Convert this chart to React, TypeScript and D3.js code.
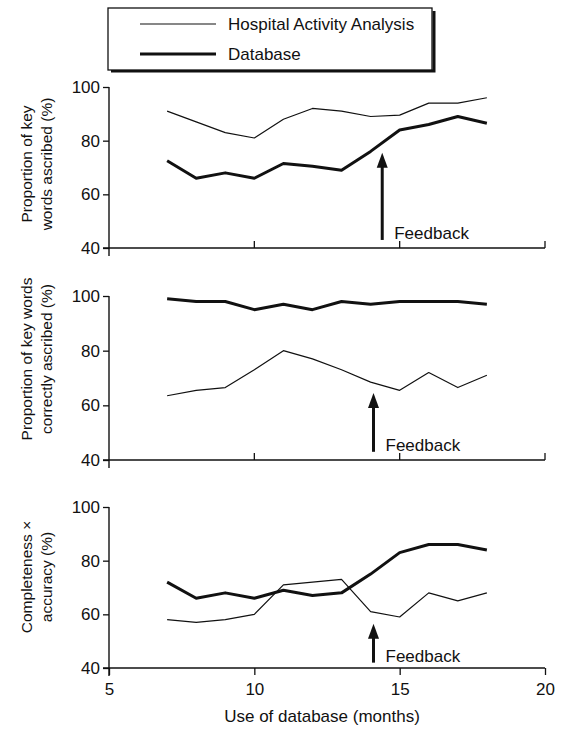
import { useEffect, useRef } from "react";
import * as d3 from "d3";

const months = [7, 8, 9, 10, 11, 12, 13, 14, 15, 16, 17, 18];

// panel 1: proportion of key words ascribed
const haaAscribed = [91, 87, 83, 81, 88, 92, 91, 89, 89.5, 94, 94, 96];
const dbAscribed = [72.5, 66, 68, 66, 71.5, 70.5, 69, 76, 84, 86, 89, 86.5];

// panel 2: proportion of key words correctly ascribed
const haaCorrect = [63.5, 65.5, 66.5, 73, 80, 77, 73, 68.5, 65.5, 72, 66.5, 71];
const dbCorrect = [99, 98, 98, 95, 97, 95, 98, 97, 98, 98, 98, 97];

// panel 3: completeness x accuracy
const haaCompleteness = [58, 57, 58, 60, 71, 72, 73, 61, 59, 68, 65, 68];
const dbCompleteness = [72, 66, 68, 66, 69, 67, 68, 75, 83, 86, 86, 84];

const yTicks = [40, 60, 80, 100];
const xTicks = [5, 10, 15, 20];

const panelTitles = [
  ["Proportion of key", "words ascribed (%)"],
  ["Proportion of key words", "correctly ascribed (%)"],
  ["Completeness \u00d7", "accuracy (%)"],
];

// feedback arrow: month, from value, to value
const feedbackMonth = [14.4, 14.1, 14.1];
const feedbackFrom = [43, 43, 42];
const feedbackTo = [75.5, 64.5, 56.5];

const legendLabels = ["Hospital Activity Analysis", "Database"];

const FONT = "'Liberation Sans', Arial, Helvetica, sans-serif";

export default function App() {
  const svgRef = useRef<SVGSVGElement>(null);
  const width = 565;
  const height = 729;

  useEffect(() => {
    const svg = d3.select(svgRef.current);
    svg.selectAll("*").remove();

    const x = d3.scaleLinear().domain([5, 20]).range([109, 545]);
    const panelRanges = [
      [248, 87],
      [460, 296],
      [668, 507],
    ];
    const series = [
      [haaAscribed, dbAscribed],
      [haaCorrect, dbCorrect],
      [haaCompleteness, dbCompleteness],
    ];
    const titleCenters = [164, 359, 577];

    panelRanges.forEach((range, i) => {
      const y = d3.scaleLinear().domain([40, 100]).range(range);
      const g = svg.append("g").attr("class", `panel-${i}`);

      // y axis
      const yAxis = g
        .append("g")
        .attr("transform", `translate(${x(5)},0)`)
        .call(
          d3.axisLeft(y).tickValues(yTicks).tickSize(6).tickPadding(3).tickSizeOuter(0)
        );
      yAxis.select(".domain").remove();
      yAxis.selectAll("line").attr("stroke", "#111").attr("stroke-width", 1.3);
      yAxis
        .selectAll("text")
        .attr("font-family", FONT)
        .attr("font-size", 17)
        .attr("fill", "#111");

      g.append("line")
        .attr("x1", x(5))
        .attr("x2", x(5))
        .attr("y1", y(100))
        .attr("y2", y(40) + 8)
        .attr("stroke", "#111")
        .attr("stroke-width", 1.4);

      // x axis
      g.append("line")
        .attr("x1", x(5) - 6)
        .attr("x2", x(20))
        .attr("y1", y(40))
        .attr("y2", y(40))
        .attr("stroke", "#111")
        .attr("stroke-width", 1.4);

      if (i < 2) {
        g.selectAll("line.xtick")
          .data(xTicks.slice(1))
          .join("line")
          .attr("class", "xtick")
          .attr("x1", (d) => x(d))
          .attr("x2", (d) => x(d))
          .attr("y1", y(40))
          .attr("y2", y(40) - 7)
          .attr("stroke", "#111")
          .attr("stroke-width", 1.3);
      } else {
        const xAxis = g
          .append("g")
          .attr("transform", `translate(0,${y(40)})`)
          .call(d3.axisBottom(x).tickValues(xTicks).tickSize(7).tickPadding(8).tickSizeOuter(0));
        xAxis.select(".domain").remove();
        xAxis.selectAll("line").attr("stroke", "#111").attr("stroke-width", 1.3);
        xAxis
          .selectAll("text")
          .attr("font-family", FONT)
          .attr("font-size", 17)
          .attr("fill", "#111");

        g.append("text")
          .attr("x", 322)
          .attr("y", 722)
          .attr("text-anchor", "middle")
          .attr("font-family", FONT)
          .attr("font-size", 17)
          .attr("fill", "#111")
          .text("Use of database (months)");
      }

      // y title
      const title = g
        .append("text")
        .attr("transform", `translate(0,${titleCenters[i]}) rotate(-90)`)
        .attr("text-anchor", "middle")
        .attr("font-family", FONT)
        .attr("font-size", 15.5)
        .attr("fill", "#111");
      title.append("tspan").attr("x", 0).attr("y", 32).text(panelTitles[i][0]);
      title.append("tspan").attr("x", 0).attr("y", 52).text(panelTitles[i][1]);

      // lines
      const line = d3
        .line<number>()
        .x((_, j) => x(months[j]))
        .y((d) => y(d));

      g.append("path")
        .attr("d", line(series[i][0]))
        .attr("fill", "none")
        .attr("stroke", "#111")
        .attr("stroke-width", 1.2)
        .attr("stroke-linejoin", "round");

      g.append("path")
        .attr("d", line(series[i][1]))
        .attr("fill", "none")
        .attr("stroke", "#111")
        .attr("stroke-width", 3)
        .attr("stroke-linejoin", "round");

      // feedback arrow
      const ax = x(feedbackMonth[i]);
      const yFrom = y(feedbackFrom[i]);
      const yTo = y(feedbackTo[i]);
      g.append("line")
        .attr("x1", ax)
        .attr("x2", ax)
        .attr("y1", yFrom)
        .attr("y2", yTo + 12)
        .attr("stroke", "#111")
        .attr("stroke-width", 3);
      g.append("path")
        .attr("d", `M${ax},${yTo} L${ax - 5.5},${yTo + 15} L${ax + 5.5},${yTo + 15} Z`)
        .attr("fill", "#111");
      g.append("text")
        .attr("x", ax + 12)
        .attr("y", yFrom - 1)
        .attr("font-family", FONT)
        .attr("font-size", 17)
        .attr("fill", "#111")
        .text("Feedback");
    });

    // legend
    const legend = svg.append("g").attr("class", "legend");
    legend
      .append("path")
      .attr("d", "M111,71 L434,71 L434,11")
      .attr("fill", "none")
      .attr("stroke", "#111")
      .attr("stroke-width", 3);
    legend
      .append("rect")
      .attr("x", 108)
      .attr("y", 8)
      .attr("width", 324)
      .attr("height", 62)
      .attr("fill", "white")
      .attr("stroke", "#111")
      .attr("stroke-width", 1.3);

    legendLabels.forEach((label, i) => {
      const ly = 24 + i * 30;
      legend
        .append("line")
        .attr("x1", 140)
        .attr("x2", 216)
        .attr("y1", ly)
        .attr("y2", ly)
        .attr("stroke", "#111")
        .attr("stroke-width", i === 0 ? 1.2 : 3);
      legend
        .append("text")
        .attr("x", 228)
        .attr("y", ly + 6)
        .attr("font-family", FONT)
        .attr("font-size", 17)
        .attr("fill", "#111")
        .text(label);
    });
  }, []);

  return (
    <svg
      ref={svgRef}
      width={width}
      height={height}
      style={{ position: "absolute", left: 0, top: 0, background: "white" }}
    ></svg>
  );
}
